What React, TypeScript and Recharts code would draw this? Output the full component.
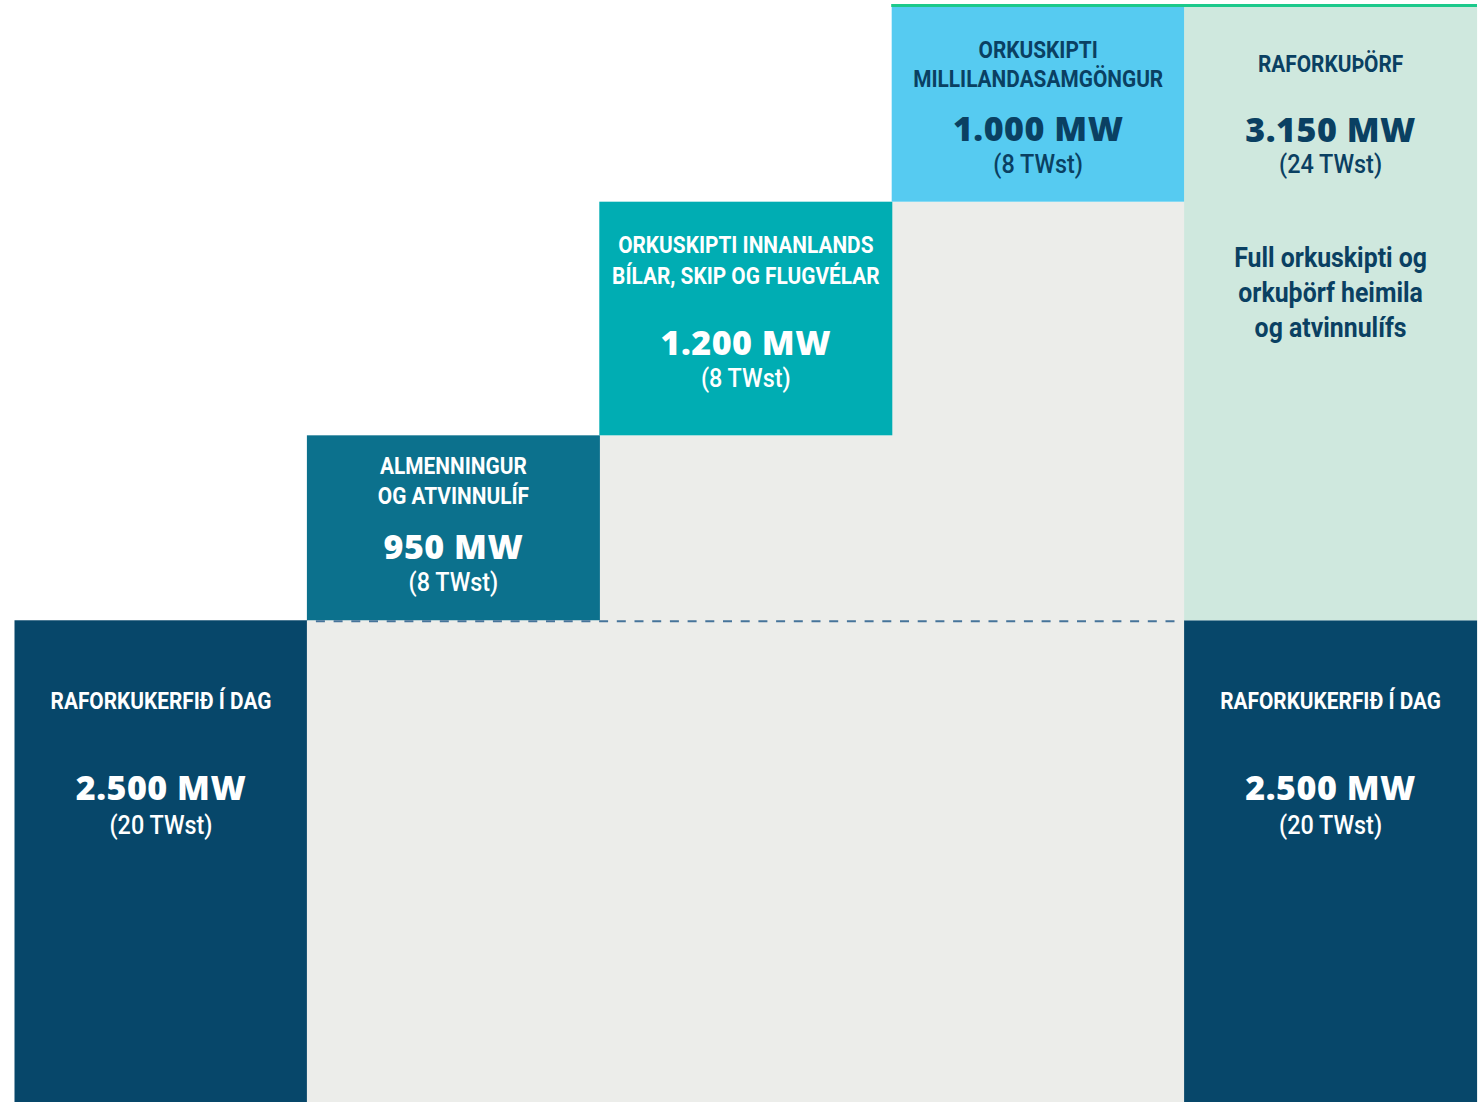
import React from 'react';
import { BarChart, Bar, XAxis, YAxis, Cell, ReferenceLine } from 'recharts';

// ---- data ----
const categories = ['Raforkukerfið í dag', 'Almenningur', 'Orkuskipti innanlands', 'Orkuskipti millilanda', 'Raforkuþörf'];
const baseValues = [2500, 2500, 3450, 4650, 2500];
const stepValues = [0, 950, 1200, 1000, 3150];
const stepTitles = [[], ['ALMENNINGUR', 'OG ATVINNULÍF'], ['ORKUSKIPTI INNANLANDS', 'BÍLAR, SKIP OG FLUGVÉLAR'], ['ORKUSKIPTI', 'MILLILANDASAMGÖNGUR'], ['RAFORKUÞÖRF']];
const stepMW = ['', '950 MW', '1.200 MW', '1.000 MW', '3.150 MW'];
const stepTW = ['', '(8 TWst)', '(8 TWst)', '(8 TWst)', '(24 TWst)'];
const todayTitle = 'RAFORKUKERFIÐ Í DAG';
const todayMW = '2.500 MW';
const todayTW = '(20 TWst)';
const noteLines = ['Full orkuskipti og', 'orkuþörf heimila', 'og atvinnulífs'];
const totalValue = 5650;

const data = categories.map((c, i) => ({ name: c, base: baseValues[i], step: stepValues[i] }));

// ---- styles ----
const NAVY = '#07476A';
const GREY = '#ECEDEA';
const TEXT_NAVY = '#0A4062';
const baseColors = [NAVY, GREY, GREY, GREY, NAVY];
const stepColors = ['transparent', '#0C718D', '#00ADB3', '#56CBF1', '#CFE8DE'];
const stepText = ['#fff', '#fff', '#fff', TEXT_NAVY, TEXT_NAVY];
const baseLabelCols = [true, false, false, false, true];
const baseLayout = { title: [89], mw: 180, tw: 214 };
const stepLayout: any[] = [
  null,
  { title: [39, 68.5], mw: 123.5, tw: 155.5 },
  { title: [51.5, 82.5], mw: 153.5, tw: 185.5 },
  { title: [51, 80], mw: 134, tw: 166 },
  { title: [64.5], mw: 134.5, tw: 166, note: [260, 295, 330] },
];

const COND = "Roboto, 'Noto Sans', sans-serif";
const WIDE = "'Open Sans', 'Lato', sans-serif";

function SqText(props: any) {
  const { x, y, fill, size, weight, sx, ls, children } = props;
  return (
    <g transform={`translate(${x},${y}) scale(${sx},1)`}>
      <text x={0} y={0} textAnchor="middle" fill={fill}
        style={{ fontFamily: COND, fontWeight: weight, fontSize: size, letterSpacing: ls || 0 }}>{children}</text>
    </g>
  );
}

function Block(props: any) {
  const { x, y, width, height, fill, color, layout, titles, mw, tw, note } = props;
  const cx = x + width / 2;
  return (
    <g>
      <rect x={x - 0.5} y={y} width={width + 1} height={height} fill={fill} />
      {layout && titles.map((t: string, k: number) => (
        <SqText key={'t' + k} x={cx} y={y + layout.title[k]} fill={color} size={24} weight={700} sx={0.868}>{t}</SqText>
      ))}
      {layout && (
        <text x={cx} y={y + layout.mw} textAnchor="middle" fill={color}
          style={{ fontFamily: WIDE, fontWeight: 800, fontSize: 34, letterSpacing: 0.5 }}>{mw}</text>
      )}
      {layout && (
        <SqText x={cx} y={y + layout.tw} fill={color} size={26} weight={500} sx={0.9}>{tw}</SqText>
      )}
      {layout && layout.note && note.map((t: string, k: number) => (
        <SqText key={'n' + k} x={cx} y={y + layout.note[k]} fill={color} size={27} weight={700} sx={0.92}>{t}</SqText>
      ))}
    </g>
  );
}

const BaseShape = (p: any) => {
  const i = p.index;
  return (
    <Block x={p.x} y={p.y} width={p.width} height={p.height} fill={baseColors[i]} color="#fff"
      layout={baseLabelCols[i] ? baseLayout : null} titles={[todayTitle]} mw={todayMW} tw={todayTW} note={[]} />
  );
};

const StepShape = (p: any) => {
  const i = p.index;
  if (!stepValues[i]) return <g />;
  return (
    <Block x={p.x} y={p.y} width={p.width} height={p.height} fill={stepColors[i]} color={stepText[i]}
      layout={stepLayout[i]} titles={stepTitles[i]} mw={stepMW[i]} tw={stepTW[i]} note={noteLines} />
  );
};

const DashedShape = (p: any) => {
  const w = (p.x2 - p.x1) / categories.length;
  return (
    <line x1={p.x1 + w + 8.5} x2={p.x1 + 4 * w - 8} y1={p.y1 + 1} y2={p.y2 + 1}
      stroke="#46749A" strokeWidth={2} strokeDasharray="9 8.7" />
  );
};

const TopShape = (p: any) => {
  const w = (p.x2 - p.x1) / categories.length;
  return (
    <line x1={p.x1 + 3 * w - 1} x2={p.x2} y1={p.y1 - 1.5} y2={p.y2 - 1.5}
      stroke="#1CC98B" strokeWidth={3} />
  );
};

export default function App() {
  return (
    <div style={{ position: 'absolute', left: 0, top: 0, width: 1483, height: 1102, overflow: 'hidden', background: '#fff' }}>
      <BarChart width={1483} height={1107} data={data} barCategoryGap={0}
        margin={{ top: 7, right: 6, bottom: 0, left: 15 }}>
        <XAxis dataKey="name" hide />
        <YAxis hide domain={[0, totalValue]} />
        <Bar dataKey="base" stackId="a" isAnimationActive={false} shape={BaseShape}>
          {data.map((_, i) => <Cell key={i} fill={baseColors[i]} />)}
        </Bar>
        <Bar dataKey="step" stackId="a" isAnimationActive={false} shape={StepShape}>
          {data.map((_, i) => <Cell key={i} fill={stepColors[i]} />)}
        </Bar>
        <ReferenceLine y={2500} shape={DashedShape} ifOverflow="extendDomain" />
        <ReferenceLine y={totalValue} shape={TopShape} ifOverflow="extendDomain" />
      </BarChart>
    </div>
  );
}
